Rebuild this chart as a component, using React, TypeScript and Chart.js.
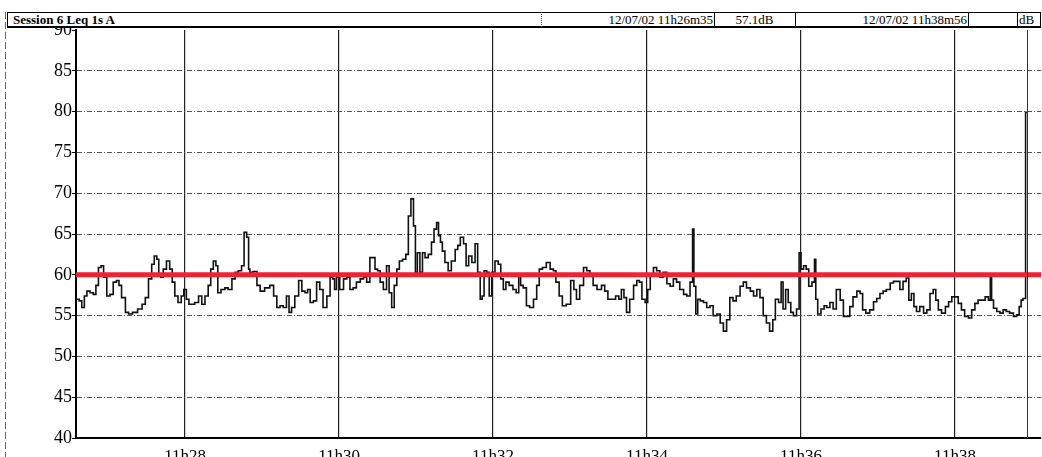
import React, { useEffect, useRef } from "react";
import { Chart, registerables } from "chart.js";

Chart.register(...registerables);

// Seconds since 11h26m35 (start of session)
const TIMES = [
  0, 2, 3, 6, 7, 10, 12, 15, 16, 19, 20, 23, 25, 28, 30, 33, 34, 37, 40, 42, 46, 50, 53, 55, 58, 60, 62, 64, 65, 67, 69, 72, 74, 76, 78, 81, 83, 85, 87, 89, 91, 94, 97, 99, 102, 104, 106, 108, 110, 111, 115, 117, 120, 123, 125, 128, 130, 132, 134, 135, 136, 140, 142, 145, 149,
  153, 155, 158, 160, 163, 165, 167, 169, 172, 175, 177, 180, 181, 184, 186, 189, 191, 194, 197, 199, 201, 202, 204, 207, 210, 212, 215, 217, 220, 223, 225, 228, 230, 232, 234, 236, 238, 241, 243, 245, 247, 249, 251, 253, 256, 258, 260, 262, 264, 265, 267, 269, 271, 273, 276, 278, 280, 282, 283, 285, 286, 289, 291, 294, 297,
  298, 301, 303, 305, 307, 310, 312, 314, 316, 317, 319, 321, 323, 325, 328, 330, 332, 334, 336, 339, 342, 344, 346, 347, 350, 352, 355, 358, 360, 362, 365, 368, 371, 373, 375, 378, 380, 384, 387, 389, 391, 394, 397, 399, 402, 404, 408, 411, 413, 416, 419, 422, 424, 426, 428, 430, 433, 436, 438, 440, 442, 445,
  446, 449, 451, 454, 456, 459, 462, 464, 467, 469, 472, 475, 477, 480, 481, 482, 484, 485, 488, 490, 493, 495, 498, 501, 503, 506, 508, 511, 513, 516, 519, 521, 524, 527, 529, 532, 534, 537, 539, 542, 544, 546, 549, 550, 552, 554, 556, 558, 560, 563, 564, 566, 568, 570, 572, 575, 576, 577, 579, 582, 584, 586, 589, 591,
  594, 597, 599, 602, 604, 607, 610, 612, 614, 617, 620, 623, 625, 628, 630, 633, 636, 638, 641, 643, 646, 648, 650, 652, 654, 656, 659, 662, 664, 667, 669, 671, 673, 676, 679, 681, 684, 686, 689, 691, 694, 697, 699, 702, 704, 707, 710, 712, 713, 714, 716, 719, 721, 724, 726, 729, 732, 734, 736, 737, 739, 741,
];

// Leq 1s A, dB
const LEVELS = [
  57.0, 57.0, 56.8, 56.0, 57.4, 58.0, 57.8, 57.6, 58.7, 60.9, 61.1, 59.7, 57.4, 57.6, 59.1, 59.3, 58.7, 57.2, 55.4, 55.2, 55.4, 55.8, 56.4, 57.2, 59.5, 61.3, 62.3, 61.9, 60.1, 59.7, 60.7, 61.7, 60.7, 59.1, 57.4, 56.6, 57.4, 58.2, 57.0, 56.4, 56.4, 56.6, 57.4, 56.4, 57.4, 58.7, 60.7, 61.7, 61.1, 57.8, 58.2, 58.4, 58.2, 59.5, 60.3, 60.5, 61.1, 65.2, 64.6, 60.7, 60.3, 60.4, 58.7, 58.0, 58.4,
  58.7, 57.4, 56.0, 56.2, 56.0, 57.4, 55.4, 56.0, 57.4, 59.3, 58.0, 57.8, 58.2, 56.6, 56.8, 59.1, 58.2, 56.0, 57.4, 59.7, 59.5, 58.2, 59.7, 58.2, 59.5, 59.7, 58.2, 58.4, 59.1, 59.5, 59.7, 59.1, 62.1, 62.1, 60.7, 60.5, 59.1, 58.2, 61.1, 57.8, 56.0, 58.7, 60.7, 61.7, 61.9, 62.5, 67.2, 69.3, 66.0, 60.3, 62.7, 60.3, 62.7, 62.1, 62.5, 64.0, 65.6, 66.4, 64.8, 64.0, 62.9, 61.5, 60.5, 61.7, 63.1,
  63.6, 64.6, 63.8, 61.1, 62.3, 61.5, 63.8, 60.3, 57.0, 57.4, 60.5, 60.3, 57.4, 60.3, 61.7, 61.3, 59.5, 58.2, 59.1, 58.7, 58.2, 57.8, 59.9, 58.7, 58.4, 56.2, 56.0, 57.0, 58.7, 60.7, 60.9, 61.5, 60.7, 60.5, 59.1, 57.4, 56.2, 56.4, 59.3, 58.2, 57.0, 58.7, 60.9, 60.5, 59.9, 58.7, 58.2, 58.7, 58.0, 57.0, 57.0, 57.4, 57.0, 58.2, 57.2, 55.4, 57.0, 58.7, 59.3, 59.1, 57.0, 56.6,
  58.2, 59.9, 60.9, 60.5, 59.7, 60.3, 58.9, 58.6, 59.5, 59.1, 58.2, 57.6, 57.4, 59.1, 65.6, 58.6, 55.2, 57.0, 56.8, 56.6, 56.0, 56.2, 55.0, 55.2, 54.1, 53.1, 54.5, 57.2, 56.8, 57.4, 58.6, 59.1, 58.4, 58.0, 57.4, 58.2, 57.2, 55.0, 54.1, 53.1, 54.5, 57.0, 56.6, 59.1, 55.8, 58.2, 56.6, 55.4, 55.0, 55.8, 62.7, 60.7, 61.1, 60.7, 58.6, 59.1, 61.9, 57.0, 55.2, 55.8, 56.2, 56.0, 56.6, 55.8,
  58.2, 56.9, 54.9, 54.9, 56.1, 57.3, 58.0, 57.7, 55.7, 55.3, 55.7, 56.7, 57.1, 57.7, 58.0, 58.2, 59.0, 59.2, 59.2, 58.2, 59.2, 59.6, 56.9, 57.7, 56.1, 55.5, 56.1, 55.3, 55.7, 57.7, 58.2, 56.9, 55.7, 55.3, 56.1, 56.7, 57.3, 57.3, 56.5, 55.7, 54.9, 54.7, 55.7, 56.5, 56.9, 56.9, 57.3, 56.9, 59.8, 56.9, 55.9, 55.5, 55.3, 55.7, 55.5, 55.3, 54.9, 55.1, 56.1, 56.9, 57.1, 79.9,
];

const Y_MIN = 40;
const Y_MAX = 90;
const Y_STEP = 5;
const X_MIN = 0;
const X_MAX = 752;
const END_SECOND = 741;
const X_TICK_SECONDS = [85, 205, 325, 445, 565, 685];
const X_TICK_LABELS = ["11h28", "11h30", "11h32", "11h34", "11h36", "11h38"];
const THRESHOLD = 60;

const HEADER_SESSION = "Session 6 Leq 1s A";
const HEADER_START = "12/07/02 11h26m35";
const HEADER_VALUE = "57.1dB";
const HEADER_END = "12/07/02 11h38m56";
const HEADER_UNIT = "dB";

const SERIF = '"Liberation Serif", "Times New Roman", "DejaVu Serif", serif';

const framePlugin = {
  id: "frameExtras",
  afterDatasetsDraw(chart: any) {
    const { ctx, chartArea, scales } = chart;
    const x = scales.x.getPixelForValue(END_SECOND);
    ctx.save();
    ctx.strokeStyle = "#333";
    ctx.lineWidth = 1;
    ctx.beginPath();
    ctx.moveTo(Math.round(x) + 0.5, chartArea.top);
    ctx.lineTo(Math.round(x) + 0.5, chartArea.bottom);
    ctx.stroke();
    ctx.strokeStyle = "#666";
    ctx.setLineDash([7, 3]);
    ctx.beginPath();
    ctx.moveTo(5.5, 12);
    ctx.lineTo(5.5, chart.height);
    ctx.stroke();
    ctx.restore();
  },
};

function ChartCanvas() {
  const ref = useRef<HTMLCanvasElement | null>(null);
  useEffect(() => {
    if (!ref.current) return;
    const trace = TIMES.map((t, i) => ({ x: t, y: LEVELS[i] }));
    const chart = new Chart(ref.current, {
      type: "line",
      data: {
        datasets: [
          {
            label: "threshold",
            data: [
              { x: X_MIN, y: THRESHOLD },
              { x: X_MAX, y: THRESHOLD },
            ],
            borderColor: "#ee2233",
            borderWidth: 5,
            pointRadius: 0,
          },
          {
            label: HEADER_SESSION,
            data: trace,
            borderColor: "#111",
            borderWidth: 1.6,
            pointRadius: 0,
            tension: 0,
            stepped: "middle",
          },
        ],
      },
      options: {
        animation: false,
        responsive: true,
        maintainAspectRatio: false,
        devicePixelRatio: 1,
        events: [],
        layout: { padding: { top: 30, right: 1, bottom: 0, left: 0 } },
        plugins: { legend: { display: false }, tooltip: { enabled: false }, title: { display: false } },
        scales: {
          x: {
            type: "linear",
            min: X_MIN,
            max: X_MAX,
            afterBuildTicks: (s: any) => {
              s.ticks = X_TICK_SECONDS.map((v) => ({ value: v }));
            },
            afterFit: (s: any) => {
              s.height = 32;
            },
            ticks: {
              autoSkip: false,
              maxRotation: 0,
              padding: 8,
              color: "#000",
              font: { family: SERIF, size: 17 },
              callback: (v: any) => {
                const i = X_TICK_SECONDS.indexOf(Number(v));
                return i >= 0 ? X_TICK_LABELS[i] : "";
              },
            },
            grid: { color: "#222", lineWidth: 1.2, drawTicks: false },
            border: { display: true, color: "#000", width: 2 },
          },
          y: {
            type: "linear",
            min: Y_MIN,
            max: Y_MAX,
            afterFit: (s: any) => {
              s.width = 76;
            },
            ticks: {
              stepSize: Y_STEP,
              padding: 0,
              color: "#000",
              font: { family: SERIF, size: 18 },
            },
            grid: {
              color: (c: any) => (c.tick && (c.tick.value === Y_MIN || c.tick.value === Y_MAX) ? "rgba(0,0,0,0)" : "#555"),
              lineWidth: 1,
              tickLength: 4,
              tickColor: "#000",
              tickBorderDash: [],
            },
            border: { display: true, color: "#000", width: 2, dash: [5, 2, 1, 2] },
          },
        },
      },
      plugins: [framePlugin],
    });
    return () => chart.destroy();
  }, []);
  return <canvas ref={ref} />;
}

const textBase: React.CSSProperties = {
  position: "absolute",
  top: 13,
  height: 13,
  lineHeight: "13px",
  fontFamily: SERIF,
  fontSize: 13,
  color: "#000",
  whiteSpace: "nowrap",
};

function Sep({ x, dotted }: { x: number; dotted?: boolean }) {
  return (
    <div
      style={{
        position: "absolute",
        left: x,
        top: 12,
        width: 0,
        height: 15,
        borderLeft: dotted ? "1px dotted #555" : "1px solid #000",
      }}
    />
  );
}

export default function App() {
  return (
    <div
      style={{
        position: "fixed",
        left: 0,
        top: 0,
        width: 1042,
        height: 457,
        overflow: "hidden",
        background: "#fff",
      }}
    >
      <div style={{ position: "absolute", left: 0, top: 0, width: 1042, height: 470 }}>
        <ChartCanvas />
      </div>
      <div
        style={{
          position: "absolute",
          left: 7,
          top: 12,
          width: 1034,
          height: 16,
          boxSizing: "border-box",
          borderTop: "1px solid #000",
          borderBottom: "2px solid #000",
          borderLeft: "1px solid #000",
          borderRight: "1px solid #000",
          background: "#fff",
        }}
      />
      <Sep x={541} dotted />
      <Sep x={714} />
      <Sep x={795} />
      <Sep x={968} />
      <Sep x={1017} />
      <div style={{ ...textBase, left: 13, fontWeight: "bold" }}>{HEADER_SESSION}</div>
      <div style={{ ...textBase, left: 541, width: 172, textAlign: "right" }}>{HEADER_START}</div>
      <div style={{ ...textBase, left: 714, width: 81, textAlign: "center" }}>{HEADER_VALUE}</div>
      <div style={{ ...textBase, left: 795, width: 172, textAlign: "right" }}>{HEADER_END}</div>
      <div style={{ ...textBase, left: 1019 }}>{HEADER_UNIT}</div>
    </div>
  );
}
